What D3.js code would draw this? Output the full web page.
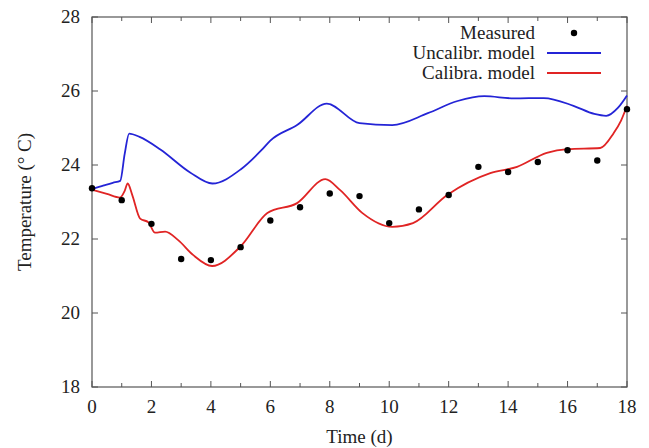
<!DOCTYPE html>
<html>
<head>
<meta charset="utf-8">
<script src="https://cdn.jsdelivr.net/npm/d3@7"></script>
<style>
  body { margin: 0; background: #fff; }
  text { font-family: "Liberation Serif", "DejaVu Serif", serif; }
</style>
</head>
<body>
<svg id="chart" width="649" height="448"></svg>
<script>
// Measured daily temperatures
const measuredT = [0, 1, 2, 3, 4, 5, 6, 7, 8, 9, 10, 11, 12, 13, 14, 15, 16, 17, 18];
const measuredV = [23.37, 23.05, 22.41, 21.46, 21.43, 21.78, 22.5, 22.86, 23.23, 23.16, 22.43, 22.8, 23.19, 23.95, 23.81, 24.08, 24.4, 24.12, 25.51];

// Uncalibrated model
const uncalT = [0, 0.4, 0.7, 0.95, 1.1, 1.25, 1.6, 2.3, 3.3, 4.05, 5, 5.7, 6, 6.9, 7.9, 9.0, 10.1, 11.3, 12.3, 13.2, 14.2, 15.2, 16.2, 16.9, 17.3, 17.7, 18];
const uncalV = [23.35, 23.45, 23.52, 23.57, 24.3, 24.85, 24.76, 24.42, 23.8, 23.5, 23.88, 24.4, 24.66, 25.08, 25.66, 25.13, 25.08, 25.4, 25.73, 25.86, 25.8, 25.81, 25.6, 25.38, 25.33, 25.55, 25.88];

// Calibrated model
const calT = [0, 0.5, 0.94, 1.1, 1.2, 1.35, 1.62, 1.9, 2.12, 2.46, 2.9, 3.4, 4.04, 5, 5.9, 6.9, 7.85, 8.35, 9.1, 10.1, 10.8, 11.95, 13.4, 14.3, 15.3, 16, 17.1, 17.55, 17.8, 18];
const calV = [23.33, 23.22, 23.12, 23.3, 23.5, 23.2, 22.55, 22.45, 22.17, 22.2, 21.97, 21.57, 21.27, 21.8, 22.7, 22.97, 23.62, 23.32, 22.7, 22.33, 22.43, 23.19, 23.78, 23.95, 24.33, 24.43, 24.46, 24.86, 25.2, 25.6];

const xTicks = [0, 2, 4, 6, 8, 10, 12, 14, 16, 18];
const yTicks = [18, 20, 22, 24, 26, 28];

const svg = d3.select("#chart");
const margin = { top: 17, right: 22, bottom: 61, left: 92 };
const width = 649 - margin.left - margin.right;
const height = 448 - margin.top - margin.bottom;

const x = d3.scaleLinear().domain([0, 18]).range([0, width]);
const y = d3.scaleLinear().domain([18, 28]).range([height, 0]);

const g = svg.append("g").attr("transform", `translate(${margin.left},${margin.top})`);
const frameColor = "#555";

// tick marks, pointing inward on all four sides
const minorX = d3.range(0, 19, 1);
minorX.forEach((t) => {
  const len = t % 2 === 0 ? 6 : 4;
  g.append("line").attr("x1", x(t)).attr("x2", x(t)).attr("y1", height).attr("y2", height - len)
    .attr("stroke", frameColor).attr("stroke-width", 1);
  g.append("line").attr("x1", x(t)).attr("x2", x(t)).attr("y1", 0).attr("y2", len)
    .attr("stroke", frameColor).attr("stroke-width", 1);
});
yTicks.forEach((v) => {
  g.append("line").attr("x1", 0).attr("x2", 6).attr("y1", y(v)).attr("y2", y(v))
    .attr("stroke", frameColor).attr("stroke-width", 1);
  g.append("line").attr("x1", width).attr("x2", width - 6).attr("y1", y(v)).attr("y2", y(v))
    .attr("stroke", frameColor).attr("stroke-width", 1);
});

// frame
g.append("rect").attr("x", 0).attr("y", 0).attr("width", width).attr("height", height)
  .attr("fill", "none").attr("stroke", frameColor).attr("stroke-width", 1.2);

// tick labels
g.selectAll(".xl").data(xTicks).enter().append("text")
  .attr("x", (d) => x(d)).attr("y", height + 26)
  .attr("text-anchor", "middle").attr("font-size", 19).attr("fill", "#222")
  .text((d) => d);
g.selectAll(".yl").data(yTicks).enter().append("text")
  .attr("x", -12).attr("y", (d) => y(d) + 6)
  .attr("text-anchor", "end").attr("font-size", 19).attr("fill", "#222")
  .text((d) => d);

// axis titles
svg.append("text").attr("x", margin.left + width / 2).attr("y", 443)
  .attr("text-anchor", "middle").attr("font-size", 19).attr("fill", "#222")
  .text("Time (d)");
svg.append("text").attr("transform", `translate(31,${margin.top + height / 2}) rotate(-90)`)
  .attr("text-anchor", "middle").attr("font-size", 19).attr("fill", "#222")
  .text("Temperature (° C)");

// lines
const line = d3.line().x((d) => x(d[0])).y((d) => y(d[1])).curve(d3.curveMonotoneX);
g.append("path").datum(d3.zip(uncalT, uncalV))
  .attr("fill", "none").attr("stroke", "#2424d6").attr("stroke-width", 1.8).attr("d", line);
g.append("path").datum(d3.zip(calT, calV))
  .attr("fill", "none").attr("stroke", "#e02424").attr("stroke-width", 1.8).attr("d", line);

// measured points
g.selectAll(".pt").data(d3.zip(measuredT, measuredV)).enter().append("circle")
  .attr("cx", (d) => x(d[0])).attr("cy", (d) => y(d[1])).attr("r", 3.2).attr("fill", "#000");

// legend
const legend = svg.append("g");
const entries = [
  { label: "Measured", type: "dot" },
  { label: "Uncalibr. model", type: "line", color: "#2424d6" },
  { label: "Calibra. model", type: "line", color: "#e02424" }
];
entries.forEach((e, i) => {
  const ly = 33 + i * 20;
  legend.append("text").attr("x", 535).attr("y", ly + 6).attr("text-anchor", "end")
    .attr("font-size", 19).attr("fill", "#222").text(e.label);
  if (e.type === "dot") {
    legend.append("circle").attr("cx", 574).attr("cy", ly).attr("r", 3.2).attr("fill", "#000");
  } else {
    legend.append("line").attr("x1", 547).attr("x2", 601).attr("y1", ly).attr("y2", ly)
      .attr("stroke", e.color).attr("stroke-width", 1.8);
  }
});
</script>
</body>
</html>
